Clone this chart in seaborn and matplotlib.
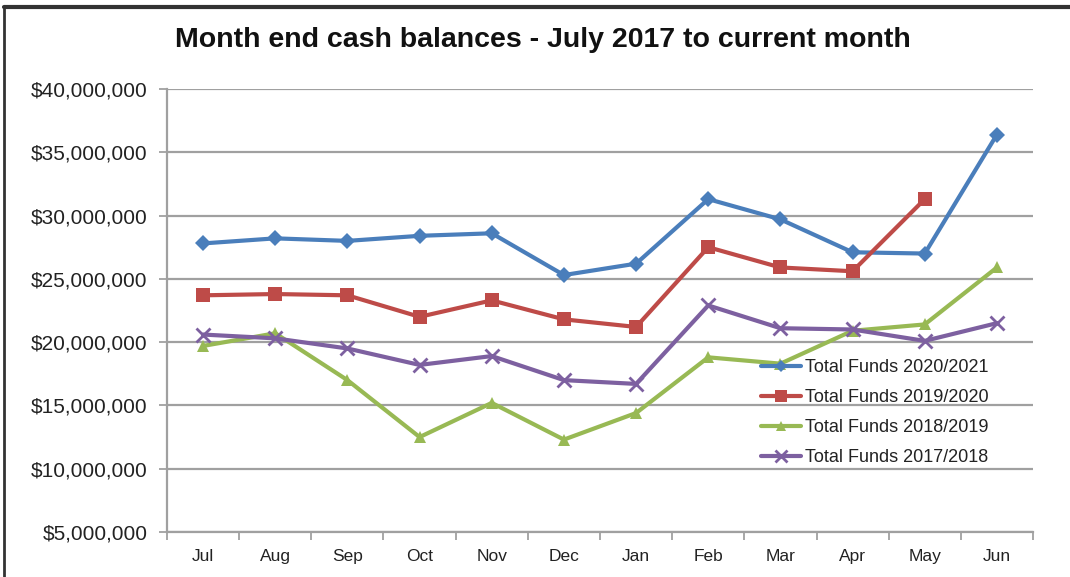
import numpy as np
import pandas as pd
import matplotlib
matplotlib.use("Agg")
import matplotlib.pyplot as plt
from matplotlib.lines import Line2D
from matplotlib.ticker import FuncFormatter, FixedLocator
import seaborn as sns

months = ["Jul", "Aug", "Sep", "Oct", "Nov", "Dec", "Jan", "Feb", "Mar", "Apr", "May", "Jun"]
funds_2020_2021 = [27.8, 28.2, 28.0, 28.4, 28.6, 25.3, 26.2, 31.3, 29.7, 27.1, 27.0, 36.4]
funds_2019_2020 = [23.7, 23.8, 23.7, 22.0, 23.3, 21.8, 21.2, 27.5, 25.9, 25.6, 31.3, np.nan]
funds_2018_2019 = [19.7, 20.7, 17.0, 12.5, 15.2, 12.3, 14.4, 18.8, 18.3, 20.9, 21.4, 25.9]
funds_2017_2018 = [20.6, 20.3, 19.5, 18.2, 18.9, 17.0, 16.7, 22.9, 21.1, 21.0, 20.1, 21.5]
series_labels = ["Total Funds 2020/2021", "Total Funds 2019/2020",
                 "Total Funds 2018/2019", "Total Funds 2017/2018"]
title = "Month end cash balances - July 2017 to current month"

sns.set_theme(style="white")
plt.rcParams["font.family"] = ["Liberation Sans", "DejaVu Sans"]

fig = plt.figure(figsize=(10.70, 5.77), dpi=100)
ax = fig.add_axes([167/1070, 1-532/577, (1033-167)/1070, (532-89)/577])

x = np.arange(len(months))
series = [funds_2020_2021, funds_2019_2020, funds_2018_2019, funds_2017_2018]
colors = ["#4A7EBB", "#BE4B48", "#98B954", "#7D60A0"]
markers = ["D", "s", "^", "x"]
msizes = [8, 10, 9, 10]

for vals, lab, c, m, ms in zip(series, series_labels, colors, markers, msizes):
    df = pd.DataFrame({"x": x, "y": np.array(vals, dtype=float) * 1e6})
    kw = dict(marker=m, markersize=ms, color=c, linewidth=3, label=lab)
    if m == "x":
        kw.update(markeredgewidth=2, markeredgecolor=c)
    else:
        kw.update(markeredgewidth=0)
    sns.lineplot(data=df, x="x", y="y", ax=ax, **kw)

ax.set_xlim(-0.5, 11.5)
ax.set_ylim(5e6, 40e6)
ax.set_yticks(np.arange(5e6, 40.1e6, 5e6))
ax.yaxis.set_major_formatter(FuncFormatter(lambda v, p: f"${v:,.0f}"))
ax.set_xticks(x)
ax.set_xticklabels(months)
ax.xaxis.set_minor_locator(FixedLocator(np.arange(-0.5, 12, 1)))
ax.set_xlabel("")
ax.set_ylabel("")

ax.grid(axis="y", color="#A0A0A0", linewidth=1.6)
ax.grid(axis="x", visible=False)
for s in ["top", "right"]:
    ax.spines[s].set_visible(False)
for s in ["left", "bottom"]:
    ax.spines[s].set_color("#A0A0A0")
    ax.spines[s].set_linewidth(1.6)

ax.tick_params(axis="y", which="major", left=True, length=6, width=1.3, color="#A0A0A0",
               labelsize=15, labelcolor="#222222", pad=8)
ax.tick_params(axis="x", which="major", bottom=False, length=0, labelsize=12.5,
               labelcolor="#222222", pad=12)
ax.tick_params(axis="x", which="minor", bottom=True, length=6, width=1.3, color="#A0A0A0")

leg = ax.legend(loc="upper left", bbox_to_anchor=((754-167)/866, (532-352)/443),
                frameon=False, fontsize=13, handlelength=2.2, handletextpad=0.2,
                labelspacing=0.72, borderaxespad=0, markerscale=0.8)
for t in leg.get_texts():
    t.set_color("#222222")

fig.text(543/1070, 1-40/577, title, ha="center", va="center",
         fontsize=20.5, fontweight="bold", color="#111111")

fig.add_artist(Line2D([4/1070, 1.0], [1-7/577, 1-7/577], color="#333333", linewidth=3,
                      transform=fig.transFigure))
fig.add_artist(Line2D([4/1070, 4/1070], [0, 1-7/577], color="#333333", linewidth=2,
                      transform=fig.transFigure))

fig.savefig("out.png", dpi=100)
